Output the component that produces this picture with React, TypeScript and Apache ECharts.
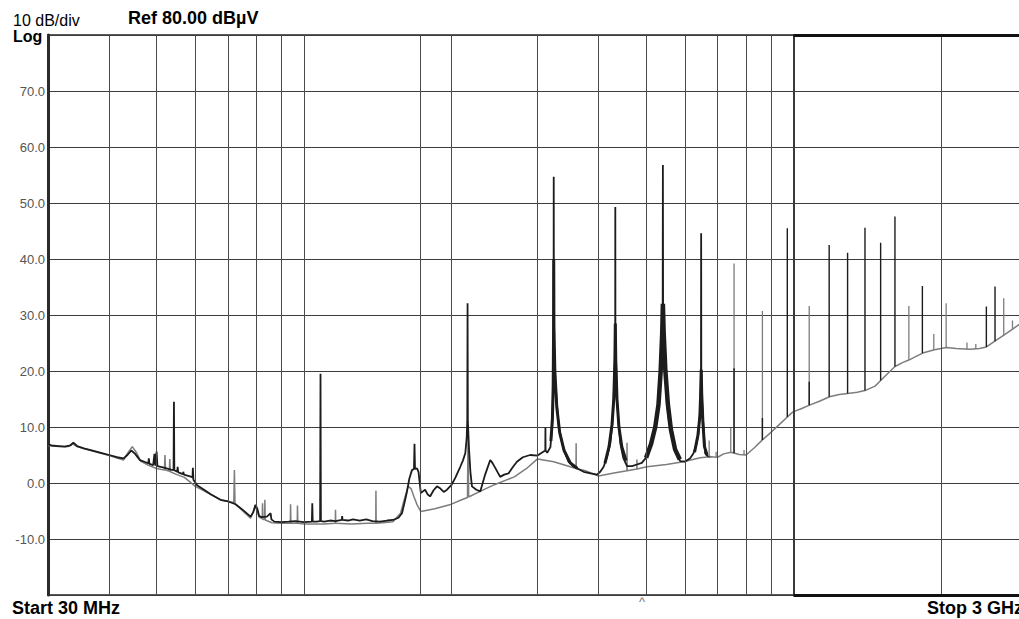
import { useEffect, useRef } from "react";
import * as echarts from "echarts";

type Pt = [number, number];
type Spike = [number, number, number]; // frequency MHz, base dBµV, peak dBµV

const FREQ_START = 30;
const FREQ_STOP = 3000;
const REF_LEVEL = 80;
const BOTTOM_LEVEL = -20;
const DB_PER_DIV = 10;

const verticalGridMHz = [40, 50, 60, 70, 80, 90, 100, 173, 200, 300, 400, 500, 600, 700, 800, 900, 2000];
const boldGridMHz = [1000];

// Max-hold (dark) trace, 30 MHz .. 676 MHz
const darkTrace: Pt[] = [
  [30, 6.9], [30.5, 6.7], [31.5, 6.6], [32.5, 6.5], [33.3, 6.7], [33.8, 7.2], [34.4, 6.6], [35.5, 6.2],
  [37, 5.8], [38.5, 5.4], [40, 5.0], [41.5, 4.6], [42.8, 4.4], [43.6, 5.0], [44.4, 5.8], [45.2, 5.2],
  [46.2, 4.1], [47.5, 3.7], [48.1, 3.5], [48.2, 4.4], [48.35, 3.4], [49.2, 3.2], [49.5, 5.2], [49.7, 3.1],
  [50.0, 5.6], [50.2, 3.0], [51.5, 2.8], [53.5, 2.4], [54.15, 2.3], [54.25, 14.5], [54.35, 2.3],
  [55.1, 2.0], [55.2, 2.9], [55.35, 1.9], [56.6, 1.6], [56.7, 2.0], [56.85, 1.5], [58.5, 1.2],
  [59.2, 1.0], [59.3, 2.7], [59.45, 0.6], [60.5, -0.4], [62.5, -1.2], [64.5, -2.0], [67.5, -3.0],
  [70, -3.3], [72.5, -3.8], [75, -4.8], [77.8, -6.0], [78.8, -5.2], [79.6, -3.9], [80.3, -4.6],
  [81.0, -5.9], [82.0, -6.1], [84, -6.0], [85.5, -5.4], [85.8, -6.5], [87, -6.9], [90, -7.0],
  [93, -6.9], [96, -6.8], [100, -7.0], [103.8, -6.9], [104.0, -3.6], [104.2, -6.9], [106, -6.9],
  [107.9, -6.8], [108.1, 19.5], [108.3, -6.8], [110, -6.9], [113, -6.7], [116, -6.8], [119.5, -6.6],
  [119.7, -5.9], [119.9, -6.6], [123, -6.7], [126, -6.5], [130, -6.7], [134, -6.5], [138, -6.8],
  [143, -6.9], [148, -6.7], [152, -6.6], [156, -6.2], [158.6, -5.4], [160.5, -3.5], [162.3, -1.6],
  [164.2, 0.8], [166.2, 2.3], [167.8, 2.5], [168.2, 7.0], [168.6, 2.5], [170.2, 2.6], [171.4, 2.0],
  [172.4, 0], [173.3, -1.8], [175, -1.5], [176.8, -1.2], [178.8, -2.0], [181, -2.4], [184, -1.3],
  [187, -0.6], [190, -1.0], [193, -1.6], [196, -1.2], [200, -0.4], [204, 1.0], [208.6, 2.9],
  [211.2, 4.0], [213.6, 5.3], [215.0, 8.0], [215.6, 11.0], [215.9, 32.1], [216.2, 11.0], [217.4, 6.0],
  [218.8, 2.0], [220.4, -0.6], [225, -1.2], [229.2, -1.5], [234.5, 1.5], [240.2, 4.1], [243, 3.5],
  [245.9, 2.7], [251.7, 1.1], [256.5, 1.5], [261.7, 1.7], [267, 2.8], [272.3, 3.8], [280, 4.6],
  [289.8, 5.0], [300, 4.9], [306, 5.4], [311.2, 5.8], [311.4, 9.9], [311.6, 5.8], [314, 5.4],
  [318.8, 6.4], [321.4, 10.1], [322.9, 16.5], [323.5, 24], [323.7, 40.4], [323.8, 54.7], [323.95, 40.4],
  [324.4, 24], [326.4, 17.8], [331.5, 10.1], [339.4, 5.9], [347, 3.8], [355.7, 2.9], [372.8, 2.0],
  [385, 1.7], [396.9, 1.5], [403, 2.0], [409.5, 2.9], [416, 4.6], [422.6, 7.1], [426.5, 10.5],
  [429.2, 14.8], [431.6, 22], [432.4, 28.8], [432.6, 49.3], [432.8, 28.8], [434, 22], [436.1, 14.8],
  [439.5, 10.5], [442.9, 7.1], [449, 4.5], [457.1, 3.0], [468, 3.0], [478.9, 3.3], [490, 3.6],
  [501.9, 4.7], [510, 6.4], [517.7, 8.3], [524.5, 11], [530.0, 14.2], [534, 17.5], [536.5, 20.8],
  [539, 25], [540.6, 31.5], [541.1, 56.8], [541.6, 31.5], [543.2, 25], [546.5, 20.8], [551.4, 14.2],
  [557, 11], [564.5, 8.3], [575, 5.6], [586.9, 3.9], [600, 3.8], [615.2, 4.4], [624.9, 5.3],
  [633, 6.8], [639.8, 8.9], [644.5, 13], [647.3, 20.2], [647.8, 44.6], [648.3, 20.2], [650, 15.4],
  [654.9, 10.1], [660.2, 5.3], [668, 4.8], [675.9, 4.7],
];

// Centre line of the solid dark bands drawn by the max-hold sweep on the four resonances
const resonanceBandA: Pt[] = [
  [319.5, 7.5], [321.8, 11.5], [323.0, 17.5], [323.6, 28], [323.8, 40], [324.1, 28], [325.5, 20],
  [328.5, 13.5], [333, 9], [340, 5.8], [350, 3.6], [362, 2.6],
];
const resonanceBandB: Pt[] = [
  [412, 3.5], [420, 6.5], [426, 10.5], [429.5, 15], [431.8, 22], [432.6, 28.5], [433.5, 22], [436, 15],
  [440, 10], [446, 6.5], [455, 4.0],
];
const resonanceBandC: Pt[] = [
  [500, 4.5], [512, 7.0], [522, 10], [530, 14], [535.5, 20], [539.5, 27], [541.1, 32], [543, 27],
  [547.5, 20], [554, 14], [562, 9.5], [573, 6], [586, 4.2],
];
const resonanceBandD: Pt[] = [
  [628, 5.5], [638, 8.5], [644, 12], [647, 17], [648, 20.2], [649.5, 16], [653, 11], [658, 6.5], [666, 5.0],
];

// Average (gray) trace, 30 MHz .. 676 MHz
const grayTrace: Pt[] = [
  [30, 6.7], [31.5, 6.5], [33.0, 6.5], [33.7, 7.0], [34.4, 6.5], [37, 5.7], [40, 4.9], [42.8, 4.1],
  [43.7, 5.4], [44.6, 6.5], [45.5, 5.4], [46.4, 3.9], [48, 3.2], [50, 2.6], [51.9, 2.3], [52.0, 5.0],
  [52.15, 2.3], [53.1, 2.1], [53.2, 4.3], [53.35, 2.0], [55, 1.5], [57, 1.0], [60, -0.6], [62.5, -1.4],
  [65, -2.2], [68, -3.1], [71.9, -3.5], [72.1, 2.3], [72.3, -3.7], [75, -5.0], [77.8, -6.3],
  [79.6, -4.2], [81, -6.1], [82.2, -6.4], [82.3, -3.6], [82.45, -6.5], [83.1, -6.5], [83.2, -3.0],
  [83.35, -6.6], [86, -7.1], [90, -7.2], [93.8, -7.2], [93.9, -3.8], [94.05, -7.2], [96.9, -7.2],
  [97.0, -4.0], [97.15, -7.2], [100, -7.3], [110, -7.3], [115.9, -7.2], [116.0, -4.8], [116.15, -7.2],
  [125, -7.3], [135, -7.2], [140.2, -7.2], [140.3, -1.4], [140.45, -7.2], [145, -7.1], [152, -6.9],
  [157.5, -5.4], [160.5, -2.8], [163.3, -0.6], [165.5, -1.0], [167.7, -2.4], [170.5, -4.0],
  [173.3, -5.1], [185, -4.6], [198.5, -3.9], [210, -3.0], [215.8, -2.6], [216.4, 9.5], [217.0, -2.5],
  [229, -1.5], [245, -0.3], [269, 1.1], [285, 2.6], [300, 4.3], [323.8, 3.8], [350, 2.9],
  [359.6, 2.6], [359.8, 7.1], [360.0, 2.6], [375.7, 2.2], [400, 1.25], [430, 1.8], [456.9, 2.2],
  [457.1, 7.2], [457.3, 2.2], [478.7, 2.5], [478.9, 4.2], [479.1, 2.5], [501.9, 2.9], [550, 3.3],
  [596, 3.8], [645, 4.5],
];

// Both traces coincide here: 676 MHz .. 3 GHz
const sharedBaseline: Pt[] = [
  [676, 4.7], [700, 4.6], [720, 5.2], [745, 5.5], [775, 5.1], [800, 5.0], [830, 6.2], [864, 7.7],
  [896, 8.9], [940, 10.6], [971.5, 11.8], [998, 12.7], [1040, 13.3], [1078, 13.9], [1130, 14.6],
  [1185, 15.4], [1240, 15.8], [1290, 16.0], [1350, 16.2], [1400, 16.5], [1468, 17.3], [1507, 18.3],
  [1560, 19.6], [1612, 20.8], [1670, 21.5], [1725, 22.0], [1780, 22.6], [1838, 23.2], [1932, 23.75],
  [2000, 24.0], [2054, 24.2], [2150, 24.0], [2292, 23.9], [2400, 24.0], [2478, 24.3], [2557, 25.1],
  [2724, 26.7], [2879, 28.2], [3000, 29.0],
];

const darkSpikes: Spike[] = [
  [756.2, 5.3, 20.5], [864.1, 7.7, 11.6], [971.5, 11.8, 45.5], [1077, 13.9, 18.1], [1183, 15.4, 42.5],
  [1290, 16.0, 41.1], [1400, 16.5, 45.6], [1507, 18.3, 42.9], [1612, 20.8, 47.6], [1834, 23.2, 35.2],
  [2478, 24.3, 31.5], [2581, 25.3, 35.1],
];

const graySpikes: Spike[] = [
  [672.7, 4.7, 7.6], [695.1, 4.6, 5.6], [744.6, 5.5, 9.8], [756.2, 5.3, 39.2], [792.6, 5.0, 5.9],
  [864.1, 7.7, 30.7], [1077, 13.9, 31.6], [1721, 22.0, 31.6], [1935, 23.75, 26.6], [2051, 24.2, 32.1],
  [2262, 23.9, 25.1], [2358, 23.95, 24.8], [2689, 26.4, 33.0], [2802, 27.5, 29.0],
];

const FONT = "'Liberation Sans', Arial, Helvetica, sans-serif";
const DARK = "#1c1c1c";
const GRAY = "#7d7d7d";

function spikeData(spikes: Spike[]) {
  const out: any[] = [];
  spikes.forEach(([f, b, p]) => {
    out.push([f, b], [f, p], [f, "-"]);
  });
  return out;
}

function bandSeries(name: string, data: Pt[], width: number) {
  return {
    name,
    type: "line",
    data,
    showSymbol: false,
    symbol: "none",
    z: 3,
    lineStyle: { color: DARK, width },
  };
}

export default function App() {
  const ref = useRef<HTMLDivElement>(null);

  useEffect(() => {
    if (!ref.current) return;
    const chart = echarts.init(ref.current, undefined, { renderer: "svg" });

    const gridLines: any[] = [
      ...verticalGridMHz.map((f) => ({ xAxis: f, lineStyle: { color: "#4a4a4a", width: 1, type: "solid" } })),
      ...boldGridMHz.map((f) => ({ xAxis: f, lineStyle: { color: "#3a3a3a", width: 2, type: "solid" } })),
      [
        { coord: [boldGridMHz[0], REF_LEVEL], lineStyle: { color: "#111", width: 3, type: "solid" } },
        { coord: [FREQ_STOP, REF_LEVEL] },
      ],
      [
        { coord: [boldGridMHz[0], BOTTOM_LEVEL], lineStyle: { color: "#111", width: 3, type: "solid" } },
        { coord: [FREQ_STOP, BOTTOM_LEVEL] },
      ],
    ];

    chart.setOption({
      animation: false,
      backgroundColor: "#ffffff",
      grid: {
        left: 48,
        top: 35,
        width: 979,
        height: 560,
        show: true,
        borderColor: "#5a5a5a",
        borderWidth: 2,
        backgroundColor: "transparent",
      },
      xAxis: {
        type: "log",
        logBase: 10,
        min: FREQ_START,
        max: FREQ_STOP,
        axisLine: { show: false },
        axisTick: { show: false },
        axisLabel: { show: false },
        splitLine: { show: false },
      },
      yAxis: {
        type: "value",
        min: BOTTOM_LEVEL,
        max: REF_LEVEL,
        interval: DB_PER_DIV,
        axisLine: { show: true, lineStyle: { color: "#2b2b2b", width: 3 } },
        axisTick: { show: false },
        splitLine: { show: true, lineStyle: { color: "#3c3c3c", width: 1 } },
        axisLabel: {
          color: "#555",
          fontSize: 13,
          fontFamily: FONT,
          margin: 3,
          formatter: (v: number) => (v === REF_LEVEL || v === BOTTOM_LEVEL ? "" : v.toFixed(1)),
        },
      },
      series: [
        {
          name: "Average",
          type: "line",
          data: [...grayTrace, ...sharedBaseline],
          showSymbol: false,
          symbol: "none",
          z: 2,
          lineStyle: { color: GRAY, width: 1.5 },
          markLine: {
            silent: true,
            symbol: ["none", "none"],
            label: { show: false },
            emphasis: { disabled: true },
            data: gridLines,
          },
        },
        {
          name: "Max Hold",
          type: "line",
          data: darkTrace,
          showSymbol: false,
          symbol: "none",
          z: 3,
          lineStyle: { color: DARK, width: 1.8 },
        },
        bandSeries("Band A", resonanceBandA, 3),
        bandSeries("Band B", resonanceBandB, 3),
        bandSeries("Band C", resonanceBandC, 4.5),
        bandSeries("Band D", resonanceBandD, 3),
        {
          name: "Average spikes",
          type: "line",
          data: spikeData(graySpikes),
          showSymbol: false,
          symbol: "none",
          connectNulls: false,
          z: 4,
          lineStyle: { color: GRAY, width: 1.3 },
        },
        {
          name: "Max Hold spikes",
          type: "line",
          data: spikeData(darkSpikes),
          showSymbol: false,
          symbol: "none",
          connectNulls: false,
          z: 5,
          lineStyle: { color: DARK, width: 1.4 },
        },
      ],
      graphic: [
        { type: "text", left: 13, top: 12, style: { text: "10 dB/div", fontSize: 16, fontFamily: FONT, fill: "#000" } },
        { type: "text", left: 13, top: 28, style: { text: "Log", fontSize: 16, fontWeight: "bold", fontFamily: FONT, fill: "#000" } },
        { type: "text", left: 128, top: 9, style: { text: "Ref 80.00 dBµV", fontSize: 18, fontWeight: "bold", fontFamily: FONT, fill: "#000" } },
        { type: "text", left: 12, top: 599, style: { text: "Start 30 MHz", fontSize: 18, fontWeight: "bold", fontFamily: FONT, fill: "#000" } },
        { type: "text", left: 927, top: 599, style: { text: "Stop 3 GHz", fontSize: 18, fontWeight: "bold", fontFamily: FONT, fill: "#000" } },
        { type: "text", left: 639, top: 595, style: { text: "^", fontSize: 13, fontFamily: FONT, fill: "#777" } },
      ],
    });

    return () => chart.dispose();
  }, []);

  return (
    <div style={{ position: "absolute", left: 0, top: 0, width: 1019, height: 619, overflow: "hidden", background: "#fff" }}>
      <div ref={ref} style={{ width: 1045, height: 619 }} />
    </div>
  );
}
